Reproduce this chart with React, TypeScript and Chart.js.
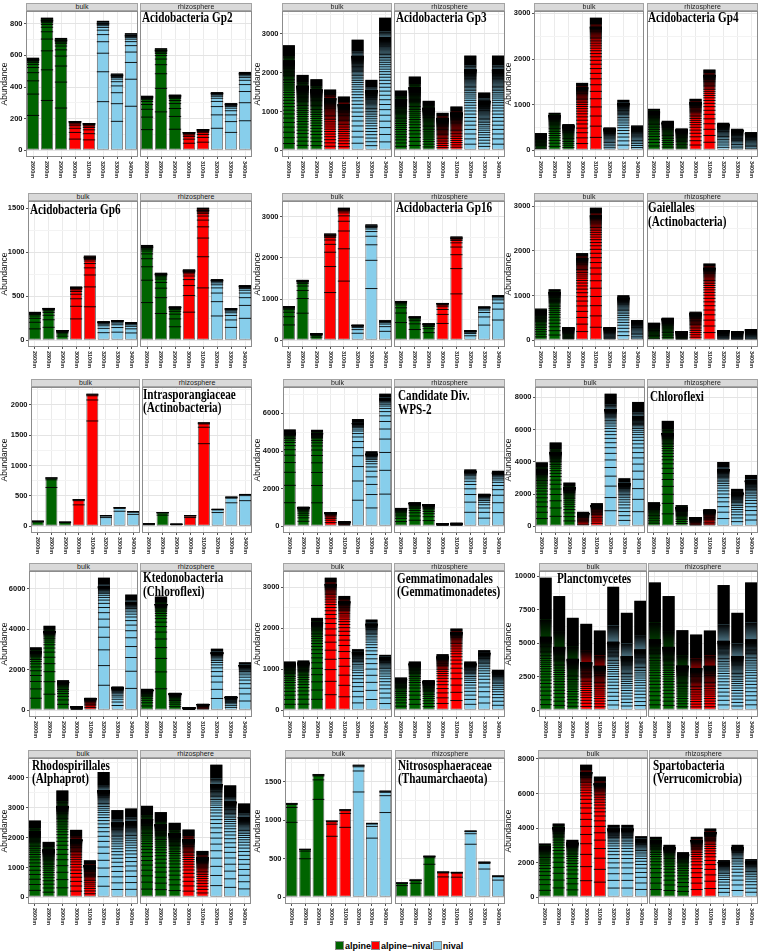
import React, { useEffect, useRef } from 'react';
import { Chart, registerables } from 'chart.js';

Chart.register(...registerables);

const SANS = '"Liberation Sans", Arial, Helvetica, sans-serif';
const SERIF = '"Liberation Serif", "Times New Roman", serif';

// ---------- categories ----------
const elevations = ['2600m', '2800m', '2900m', '3000m', '3100m', '3200m', '3300m', '3400m'];
const zones = ['alpine', 'alpine', 'alpine', 'alpine-nival', 'alpine-nival', 'nival', 'nival', 'nival'];
const zoneColors: Record<string, string> = { alpine: '#006400', 'alpine-nival': '#FF0000', nival: '#87CEEB' };
const legendKeys = ['alpine', 'alpine-nival', 'nival'];
const legendLabels = ['alpine', 'alpine\u2212nival', 'nival'];
const facetNames = ['bulk', 'rhizosphere'];

// ---------- values (bulk / rhizosphere) ----------
const gp2Bulk = [585, 838, 710, 185, 172, 818, 485, 740];
const gp2Rhizo = [345, 645, 352, 115, 133, 368, 298, 495];
const gp2Ticks = [0, 200, 400, 600, 800];

const gp3Bulk = [2710, 1945, 1834, 1568, 1388, 2853, 1817, 3420];
const gp3Rhizo = [1542, 1902, 1277, 968, 1131, 2442, 1491, 2442];
const gp3Ticks = [0, 1000, 2000, 3000];

const gp4Bulk = [379, 823, 575, 1478, 2906, 503, 1107, 546];
const gp4Rhizo = [910, 648, 481, 1129, 1770, 605, 473, 400];
const gp4Ticks = [0, 1000, 2000, 3000];

const gp6Bulk = [323, 368, 114, 611, 961, 213, 228, 205];
const gp6Rhizo = [1082, 767, 384, 805, 1505, 695, 365, 627];
const gp6Ticks = [0, 500, 1000, 1500];

const gp16Bulk = [827, 1468, 162, 2595, 3220, 373, 2814, 478];
const gp16Rhizo = [957, 576, 405, 908, 2522, 235, 819, 1095];
const gp16Ticks = [0, 1000, 2000, 3000];

const gaiBulk = [711, 1144, 292, 1952, 2969, 292, 1010, 456];
const gaiRhizo = [396, 508, 208, 642, 1720, 230, 201, 253];
const gaiTicks = [0, 1000, 2000, 3000];

const intraBulk = [87, 803, 71, 443, 2180, 180, 311, 246];
const intraRhizo = [44, 230, 38, 180, 1710, 284, 486, 530];
const intraTicks = [0, 500, 1000, 1500, 2000];

const wpsBulk = [5150, 1044, 5130, 743, 230, 5700, 3990, 7050];
const wpsRhizo = [980, 1274, 1186, 150, 160, 3026, 1735, 2955];
const wpsTicks = [0, 2000, 4000, 6000];

const chlBulk = [3967, 5200, 2713, 904, 1439, 8222, 2980, 7708];
const chlRhizo = [1500, 6536, 1316, 575, 1069, 3988, 2323, 3186];
const chlTicks = [0, 2000, 4000, 6000, 8000];

const ktdBulk = [3115, 4180, 1492, 180, 623, 6557, 1180, 5721];
const ktdRhizo = [1066, 5623, 869, 131, 311, 3049, 689, 2377];
const ktdTicks = [0, 2000, 4000, 6000];

const gemBulk = [1192, 1217, 2255, 3236, 2790, 1492, 2214, 1354];
const gemRhizo = [803, 1192, 738, 1371, 1995, 1192, 1468, 989];
const gemTicks = [0, 1000, 2000, 3000];

const plaBulk = [9900, 8525, 6905, 6456, 5958, 9222, 7278, 8175];
const plaRhizo = [9546, 8525, 5983, 5658, 5958, 9347, 7278, 9546];
const plaTicks = [0, 2500, 5000, 7500, 10000];

const rhoBulk = [2570, 1855, 3575, 2257, 1240, 4190, 2916, 2972];
const rhoRhizo = [3061, 2849, 2492, 2268, 1553, 4436, 3743, 3140];
const rhoTicks = [0, 1000, 2000, 3000, 4000];

const nitBulk = [1224, 629, 1599, 996, 1142, 1720, 966, 1384];
const nitRhizo = [190, 228, 539, 332, 328, 866, 461, 280];
const nitTicks = [0, 500, 1000, 1500];

const spaBulk = [3115, 4269, 3327, 7673, 6981, 4192, 4192, 3538];
const spaRhizo = [3500, 3038, 2615, 3500, 3981, 2154, 3038, 2211];
const spaTicks = [0, 2000, 4000, 6000, 8000];

// ---------- panel specs (t, q, n: stacked-OTU texture style) ----------
type Panel = { title: string[]; bulk: number[]; rhizo: number[]; ticks: number[]; t: number; q: number; n: number };
const panels: Panel[] = [
  { title: ['Acidobacteria Gp2'], bulk: gp2Bulk, rhizo: gp2Rhizo, ticks: gp2Ticks, t: 0.02, q: 0.62, n: 12 },
  { title: ['Acidobacteria Gp3'], bulk: gp3Bulk, rhizo: gp3Rhizo, ticks: gp3Ticks, t: 0.15, q: 0.93, n: 60 },
  { title: ['Acidobacteria Gp4'], bulk: gp4Bulk, rhizo: gp4Rhizo, ticks: gp4Ticks, t: 0.07, q: 0.9, n: 40 },
  { title: ['Acidobacteria Gp6'], bulk: gp6Bulk, rhizo: gp6Rhizo, ticks: gp6Ticks, t: 0.02, q: 0.6, n: 12 },
  { title: ['Acidobacteria Gp16'], bulk: gp16Bulk, rhizo: gp16Rhizo, ticks: gp16Ticks, t: 0.015, q: 0.55, n: 10 },
  { title: ['Gaiellales', '(Actinobacteria)'], bulk: gaiBulk, rhizo: gaiRhizo, ticks: gaiTicks, t: 0.06, q: 0.9, n: 40 },
  { title: ['Intrasporangiaceae', '(Actinobacteria)'], bulk: intraBulk, rhizo: intraRhizo, ticks: intraTicks, t: 0.01, q: 0.2, n: 4 },
  { title: ['Candidate Div.', 'WPS-2'], bulk: wpsBulk, rhizo: wpsRhizo, ticks: wpsTicks, t: 0.04, q: 0.75, n: 30 },
  { title: ['Chloroflexi'], bulk: chlBulk, rhizo: chlRhizo, ticks: chlTicks, t: 0.12, q: 0.87, n: 60 },
  { title: ['Ktedonobacteria', '(Chloroflexi)'], bulk: ktdBulk, rhizo: ktdRhizo, ticks: ktdTicks, t: 0.07, q: 0.8, n: 40 },
  { title: ['Gemmatimonadales', '(Gemmatimonadetes)'], bulk: gemBulk, rhizo: gemRhizo, ticks: gemTicks, t: 0.05, q: 0.88, n: 40 },
  { title: ['Planctomycetes'], bulk: plaBulk, rhizo: plaRhizo, ticks: plaTicks, t: 0.45, q: 0.93, n: 50 },
  { title: ['Rhodospirillales', '(Alphaprot)'], bulk: rhoBulk, rhizo: rhoRhizo, ticks: rhoTicks, t: 0.15, q: 0.9, n: 60 },
  { title: ['Nitrososphaeraceae', '(Thaumarchaeota)'], bulk: nitBulk, rhizo: nitRhizo, ticks: nitTicks, t: 0.01, q: 0.2, n: 4 },
  { title: ['Spartobacteria', '(Verrucomicrobia)'], bulk: spaBulk, rhizo: spaRhizo, ticks: spaTicks, t: 0.06, q: 0.87, n: 50 },
];

// ---------- layout ----------
const rowGeo = [
  { strip: 3, top: 11, bottom: 157 },
  { strip: 193, top: 201, bottom: 347 },
  { strip: 379, top: 387, bottom: 533 },
  { strip: 563, top: 571, bottom: 717 },
  { strip: 750, top: 758, bottom: 904 },
];
const colX0 = [0, 253, 504];
const facetX: number[][][] = [
  [[26, 138], [140, 252]], [[282, 392], [394, 505]], [[534, 644], [647, 758]],
  [[28, 138], [140, 252]], [[282, 392], [394, 505]], [[534, 644], [647, 758]],
  [[31, 140], [142, 252]], [[283, 392], [394, 505]], [[535, 645], [647, 758]],
  [[29, 138], [140, 252]], [[283, 392], [394, 505]], [[539, 647], [648, 758]],
  [[28, 138], [140, 251]], [[285, 392], [395, 505]], [[538, 648], [649, 758]],
];
// [left, cap top, line gap]
const titlePos: number[][] = [
  [142, 13, 14], [396, 13, 14], [648, 13, 14],
  [30, 205, 14], [396, 203, 14], [648, 203, 14],
  [143, 390, 13.5], [398, 391, 14], [650, 392, 14],
  [143, 573, 14], [397, 574, 13.5], [557, 574, 14],
  [32, 761, 13], [398, 761, 13.5], [653, 761, 13.5],
];

const LABEL_SPACE = 24;
const PAD_TOP = 6;

type FacetProps = {
  values: number[]; ticks: number[]; maxVal: number; isLeft: boolean; x0: number;
  left: number; right: number; top: number; bottom: number; t: number; q: number; n: number;
};

function Facet(p: FacetProps) {
  const ref = useRef<HTMLCanvasElement>(null);
  const cLeft = p.isLeft ? p.x0 : p.left - 1;
  const padLeft = p.isLeft ? 0 : 1;
  const yWidth = p.isLeft ? p.left - p.x0 : 0;
  const cWidth = p.right + 1 - cLeft;
  const cHeight = p.bottom - p.top + PAD_TOP + LABEL_SPACE;

  useEffect(() => {
    const canvas = ref.current;
    if (!canvas) return;
    const yMin = -0.05 * p.maxVal;
    const yMax = 1.05 * p.maxVal;
    const majors = p.ticks;
    const step = majors[1] - majors[0];
    const all: number[] = [];
    majors.forEach((v) => {
      all.push(v);
      const m = v + step / 2;
      if (m <= yMax) all.push(m);
    });
    const isMajor = (v: number) => majors.indexOf(v) >= 0;
    const { q, n, t } = p;
    const total = 1 - Math.pow(q, n);

    const texture = {
      id: 'otuTexture',
      afterDatasetsDraw(chart: any) {
        const { ctx, chartArea: a } = chart;
        const meta = chart.getDatasetMeta(0);
        ctx.save();
        ctx.beginPath();
        ctx.rect(a.left, a.top, a.right - a.left, a.bottom - a.top);
        ctx.clip();
        meta.data.forEach((bar: any) => {
          const { x, y, base, width } = bar.getProps(['x', 'y', 'base', 'width'], true);
          const h = base - y;
          const l = x - width / 2;
          const r = x + width / 2;
          // segment boundaries of the large OTUs
          ctx.strokeStyle = '#000000';
          ctx.lineWidth = 0.9;
          ctx.beginPath();
          for (let k = 1; k <= n; k++) {
            const f = (1 - t) * (1 - Math.pow(q, k)) / total;
            const yy = base - f * h;
            ctx.moveTo(l, yy);
            ctx.lineTo(r, yy);
          }
          ctx.stroke();
          // long tail of tiny OTUs: darkening to black
          const tailStart = base - (1 - t) * h;
          const solidStart = base - (1 - t * 0.7) * h;
          if (solidStart < tailStart) {
            const grad = ctx.createLinearGradient(0, tailStart, 0, solidStart);
            grad.addColorStop(0, 'rgba(0,0,0,0.45)');
            grad.addColorStop(1, 'rgba(0,0,0,1)');
            ctx.fillStyle = grad;
            ctx.fillRect(l, solidStart, r - l, tailStart - solidStart);
          }
          ctx.fillStyle = '#000000';
          ctx.fillRect(l, y, r - l, Math.max(solidStart - y, 0.8));
        });
        ctx.restore();
      },
      afterDraw(chart: any) {
        const { ctx, chartArea: a } = chart;
        const xs = chart.scales.x;
        ctx.save();
        ctx.strokeStyle = '#8C8C8C';
        ctx.lineWidth = 1;
        ctx.strokeRect(a.left + 0.5, a.top + 0.5, a.right - a.left - 1, a.bottom - a.top - 1);
        ctx.fillStyle = '#262626';
        ctx.font = `bold 5.5px ${SANS}`;
        ctx.textAlign = 'left';
        ctx.textBaseline = 'middle';
        elevations.forEach((lab, i) => {
          const px = xs.getPixelForValue(i);
          ctx.save();
          ctx.translate(px, a.bottom + 4);
          ctx.rotate(Math.PI / 2);
          ctx.fillText(lab, 0, 0);
          ctx.restore();
        });
        ctx.restore();
      },
    };

    const chart = new Chart(canvas, {
      type: 'bar',
      data: {
        labels: elevations,
        datasets: [
          {
            data: p.values,
            backgroundColor: zones.map((z) => zoneColors[z]),
            borderColor: '#6B6B6B',
            borderWidth: 1,
            borderSkipped: false,
            barPercentage: 0.88,
            categoryPercentage: 1,
          },
        ],
      },
      options: {
        responsive: false,
        animation: false,
        devicePixelRatio: 1,
        layout: { padding: { left: padLeft, right: 1, top: PAD_TOP, bottom: 0 } },
        plugins: { legend: { display: false }, tooltip: { enabled: false }, title: { display: false } },
        scales: {
          x: {
            type: 'category',
            offset: true,
            grid: {
              offset: false,
              color: '#EBEBEB',
              lineWidth: 1,
              drawTicks: true,
              tickLength: 2,
              tickColor: '#555555',
            },
            border: { display: false },
            ticks: { display: false },
            afterFit: (s: any) => {
              s.height = LABEL_SPACE;
            },
          },
          y: {
            type: 'linear',
            min: yMin,
            max: yMax,
            afterBuildTicks: (s: any) => {
              s.ticks = all.map((v) => ({ value: v }));
            },
            ticks: {
              display: p.isLeft,
              autoSkip: false,
              padding: 1.5,
              color: '#111111',
              font: { family: SANS, size: 7.5, weight: 'bold' },
              callback: (v: any) => (isMajor(Number(v)) ? String(v) : ''),
            },
            grid: {
              color: (c: any) => (c.tick && isMajor(c.tick.value) ? '#E4E4E4' : '#F3F3F3'),
              lineWidth: 1,
              drawTicks: p.isLeft,
              tickLength: 2,
              tickColor: (c: any) => (c.tick && isMajor(c.tick.value) ? '#555555' : 'rgba(0,0,0,0)'),
            },
            border: { display: false },
            title: {
              display: p.isLeft,
              text: 'Abundance',
              color: '#111111',
              font: { family: SANS, size: 8.5 },
              padding: { top: 0, bottom: 0 },
            },
            afterFit: (s: any) => {
              s.width = yWidth;
            },
          },
        },
      } as any,
      plugins: [texture],
    });
    return () => chart.destroy();
  }, []);

  return (
    <canvas
      ref={ref}
      width={cWidth}
      height={cHeight}
      style={{ position: 'absolute', left: cLeft, top: p.top - PAD_TOP, width: cWidth, height: cHeight }}
    />
  );
}

export default function App() {
  const nodes: React.ReactNode[] = [];
  const overlays: React.ReactNode[] = [];
  panels.forEach((pn, i) => {
    const row = Math.floor(i / 3);
    const col = i % 3;
    const g = rowGeo[row];
    const maxVal = Math.max(...pn.bulk, ...pn.rhizo);
    const fx = facetX[i];
    [pn.bulk, pn.rhizo].forEach((vals, f) => {
      nodes.push(
        <Facet
          key={`c${i}-${f}`}
          values={vals}
          ticks={pn.ticks}
          maxVal={maxVal}
          isLeft={f === 0}
          x0={colX0[col]}
          left={fx[f][0]}
          right={fx[f][1]}
          top={g.top}
          bottom={g.bottom}
          t={pn.t}
          q={pn.q}
          n={pn.n}
        />
      );
      overlays.push(
        <div
          key={`s${i}-${f}`}
          style={{
            position: 'absolute',
            left: fx[f][0],
            top: g.strip,
            width: fx[f][1] - fx[f][0],
            height: g.top - g.strip,
            boxSizing: 'border-box',
            background: '#D9D9D9',
            border: '1px solid #A3A3A3',
            fontFamily: SANS,
            fontSize: 7,
            lineHeight: `${g.top - g.strip - 2}px`,
            textAlign: 'center',
            color: '#1A1A1A',
            overflow: 'hidden',
          }}
        >
          {facetNames[f]}
        </div>
      );
    });
    const [tx, ty, gap] = titlePos[i];
    overlays.push(
      <div
        key={`t${i}`}
        style={{
          position: 'absolute',
          left: tx,
          top: ty - 2.5,
          fontFamily: SERIF,
          fontWeight: 'bold',
          fontSize: 14,
          lineHeight: `${gap}px`,
          color: '#000',
          whiteSpace: 'nowrap',
          transform: 'scaleX(0.8)',
          transformOrigin: 'left top',
        }}
      >
        {pn.title.map((tt, k) => (
          <div key={k}>{tt}</div>
        ))}
      </div>
    );
  });

  return (
    <div
      style={{
        position: 'absolute',
        left: 0,
        top: 0,
        width: 761,
        height: 952,
        background: '#FFFFFF',
        overflow: 'hidden',
      }}
    >
      {nodes}
      {overlays}
      <div
        style={{
          position: 'absolute',
          left: 335,
          top: 940,
          height: 11,
          display: 'flex',
          alignItems: 'center',
          fontFamily: SANS,
          fontWeight: 'bold',
          fontSize: 9,
          color: '#000',
          whiteSpace: 'nowrap',
        }}
      >
        {legendKeys.map((k, i) => (
          <React.Fragment key={k}>
            <span
              style={{
                display: 'inline-block',
                width: 9,
                height: 9,
                boxSizing: 'border-box',
                background: zoneColors[k],
                border: '1px solid #8A8A8A',
              }}
            />
            <span style={{ marginLeft: 1 }}>{legendLabels[i]}</span>
          </React.Fragment>
        ))}
      </div>
    </div>
  );
}
